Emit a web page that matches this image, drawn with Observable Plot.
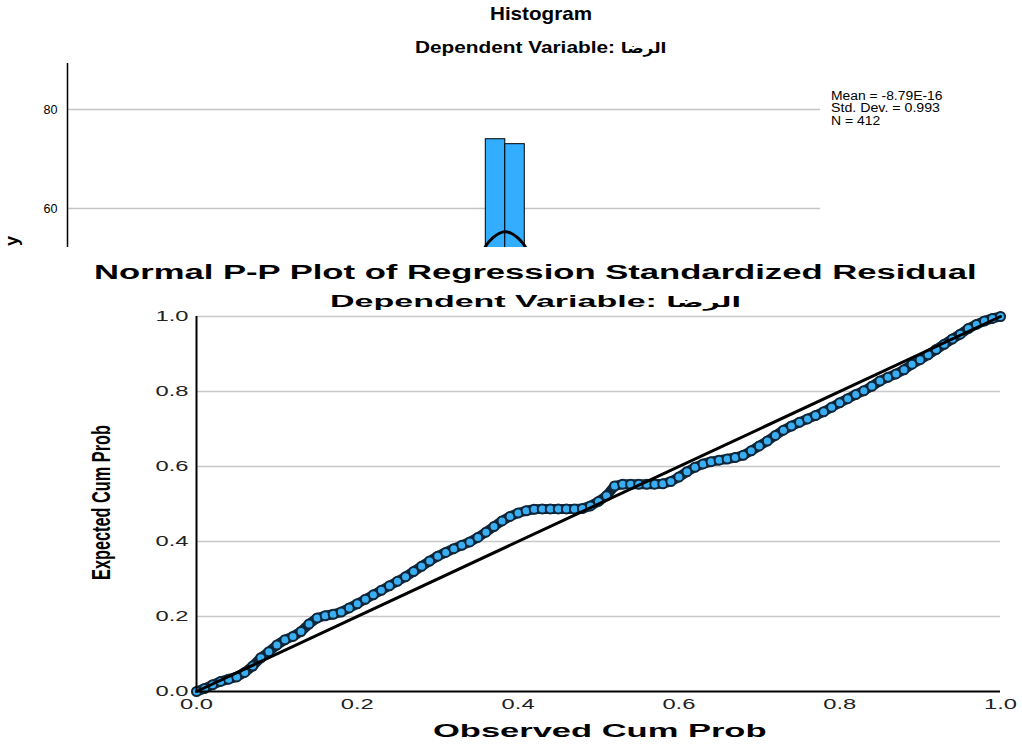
<!DOCTYPE html>
<html><head><meta charset="utf-8">
<script src="https://cdn.jsdelivr.net/npm/d3@7"></script>
<script src="https://cdn.jsdelivr.net/npm/@observablehq/plot@0.6"></script>
<style>
body{margin:0;background:#fff;}
#root{position:relative;width:1022px;height:747px;overflow:hidden;background:#fff;font-family:"Liberation Sans",Arial,"DejaVu Sans",sans-serif;}
#histBox{position:absolute;left:0;top:0;width:1022px;height:247px;overflow:hidden;}
#ppBox{position:absolute;left:0;top:247px;width:1022px;height:500px;background:#fff;}
.t{position:absolute;white-space:nowrap;transform-origin:0 0;color:#000;line-height:1;display:inline-block;}
.ar{font-family:"DejaVu Sans",sans-serif;font-size:0.82em;font-weight:bold;}
svg{display:block;}
</style></head><body><div id="root"><div id="histBox"></div><div id="ppBox"></div></div>
<script>
// ---------- Histogram data ----------
const histBinStart = [-0.334, 0];
const histBinEnd   = [0, 0.334];
const histCounts   = [74, 73];
const histXDomain  = [-7.5, 5.4];
const histYDomain  = [0, 89.3];
const histYTicks   = [60, 80];
// normal curve points (visible arc)
const curveX = [-0.36, -0.3, -0.2, -0.1, 0, 0.1, 0.2, 0.3, 0.36];
const curveY = [51.9, 53.0, 54.2, 55.0, 55.3, 55.0, 54.2, 53.0, 51.9];
const statLines = ["Mean = -8.79E-16", "Std. Dev. = 0.993", "N = 412"];
const depLabel = "Dependent Variable: ";
const depName = "الرضا";

// ---------- P-P plot data ----------
const ppObserved = [0.00,0.01,0.02,0.03,0.04,0.05,0.06,0.07,0.08,0.09,
  0.10,0.11,0.12,0.13,0.14,0.15,0.16,0.17,0.18,0.19,
  0.20,0.21,0.22,0.23,0.24,0.25,0.26,0.27,0.28,0.29,
  0.30,0.31,0.32,0.33,0.34,0.35,0.36,0.37,0.38,0.39,
  0.40,0.41,0.42,0.43,0.44,0.45,0.46,0.47,0.48,0.49,
  0.50,0.51,0.52,0.53,0.54,0.55,0.56,0.57,0.58,0.59,
  0.60,0.61,0.62,0.63,0.64,0.65,0.66,0.67,0.68,0.69,
  0.70,0.71,0.72,0.73,0.74,0.75,0.76,0.77,0.78,0.79,
  0.80,0.81,0.82,0.83,0.84,0.85,0.86,0.87,0.88,0.89,
  0.90,0.91,0.92,0.93,0.94,0.95,0.96,0.97,0.98,0.99,1.00];
const ppExpected = [0.000,0.008,0.018,0.027,0.033,0.039,0.051,0.068,0.090,0.106,
  0.124,0.138,0.147,0.160,0.180,0.196,0.202,0.206,0.212,0.223,
  0.234,0.246,0.258,0.270,0.282,0.294,0.306,0.320,0.334,0.348,
  0.361,0.371,0.381,0.390,0.399,0.411,0.425,0.440,0.455,0.467,
  0.476,0.482,0.486,0.487,0.487,0.487,0.487,0.487,0.488,0.495,
  0.507,0.522,0.548,0.553,0.553,0.553,0.553,0.553,0.554,0.560,
  0.572,0.586,0.598,0.607,0.613,0.617,0.620,0.624,0.630,0.642,
  0.655,0.668,0.683,0.697,0.708,0.718,0.727,0.736,0.746,0.758,
  0.770,0.781,0.792,0.802,0.814,0.828,0.838,0.847,0.858,0.873,
  0.885,0.898,0.912,0.926,0.940,0.953,0.968,0.979,0.988,0.995,1.000];
const diagX = [0, 1];
const diagY = [0, 1];
const ppTicks = [0, 0.2, 0.4, 0.6, 0.8, 1.0];

const barFill = "#33adff";
const dotFill = "#3aaef2";
const dotEdge = "#10273a";

// ---------- Histogram ----------
const histData = histCounts.map((c, i) => ({x1: histBinStart[i], x2: histBinEnd[i], count: c}));
const curve = curveX.map((x, i) => ({x, y: curveY[i]}));
const hist = Plot.plot({
  width: 1022, height: 535,
  marginLeft: 67, marginRight: 202, marginTop: 63, marginBottom: 30,
  style: {fontFamily: "'Liberation Sans', Arial, sans-serif", fontSize: "13px", background: "transparent"},
  x: {domain: histXDomain, axis: null},
  y: {domain: histYDomain, axis: null},
  marks: [
    Plot.gridY(histYTicks, {stroke: "#c4c4c4", strokeOpacity: 1, strokeWidth: 1.5}),
    Plot.rectY(histData, {x1: "x1", x2: "x2", y: "count", fill: barFill, stroke: "#000", strokeWidth: 1}),
    Plot.line(curve, {x: "x", y: "y", curve: "natural", stroke: "#000", strokeWidth: 3}),
    Plot.ruleX([histXDomain[0]], {y1: histYDomain[0], y2: histYDomain[1], stroke: "#000", strokeWidth: 1.5}),
    Plot.axisY(histYTicks, {tickSize: 0, tickPadding: 10, fontSize: 13, label: null})
  ]
});
document.getElementById("histBox").appendChild(hist);
d3.select(hist).selectAll('[aria-label$="tick label"] text')
  .attr("textLength", 14).attr("lengthAdjust", "spacingAndGlyphs");

// ---------- P-P plot ----------
const pts = ppObserved.map((x, i) => ({x, y: ppExpected[i]}));
const diag = diagX.map((x, i) => ({x, y: diagY[i]}));
const pp = Plot.plot({
  width: 1022, height: 500,
  marginLeft: 196, marginRight: 22, marginTop: 69, marginBottom: 56,
  style: {fontFamily: "'Liberation Sans', Arial, sans-serif", fontSize: "14px", background: "#fff"},
  x: {domain: [0, 1], axis: null},
  y: {domain: [0, 1], axis: null},
  marks: [
    Plot.gridY(ppTicks.slice(1), {stroke: "#c8c8c8", strokeOpacity: 1, strokeWidth: 1.5}),
    Plot.line(pts, {x: "x", y: "y", stroke: dotEdge, strokeWidth: 10}),
    Plot.dot(pts, {x: "x", y: "y", r: 4.5, fill: dotFill, stroke: dotEdge, strokeWidth: 2}),
    Plot.line(diag, {x: "x", y: "y", stroke: "#000", strokeWidth: 3}),
    Plot.ruleY([0], {stroke: "#000", strokeWidth: 2}),
    Plot.ruleX([0], {stroke: "#000", strokeWidth: 2}),
    Plot.axisX(ppTicks, {tickSize: 0, tickPadding: 8, fontSize: 14, label: null, tickFormat: d3.format(".1f")}),
    Plot.axisY(ppTicks, {tickSize: 0, tickPadding: 8, fontSize: 14, label: null, tickFormat: d3.format(".1f")})
  ]
});
document.getElementById("ppBox").appendChild(pp);
d3.select(pp).selectAll('[aria-label$="tick label"] text')
  .attr("textLength", 33).attr("lengthAdjust", "spacingAndGlyphs")
  .attr("fill", "#222");

// ---------- Text ----------
function label(parent, txt, o) {
  const s = document.createElement("span");
  s.className = "t";
  s.appendChild(document.createTextNode(txt));
  if (o.ar) {
    const a = document.createElement("span");
    a.className = "ar";
    a.textContent = o.ar;
    s.appendChild(a);
  }
  s.style.fontSize = o.size + "px";
  s.style.fontWeight = o.weight || "bold";
  parent.appendChild(s);
  const nat = s.offsetWidth;
  const k = o.w / nat;
  if (!o.rot) {
    s.style.left = o.x + "px";
    s.style.top = (o.base - 0.8465 * o.size) + "px";
    s.style.transform = `scaleX(${k})`;
  } else {
    s.style.left = (o.x - 0.8465 * o.size) + "px";
    s.style.top = o.base + "px";
    s.style.transform = `rotate(-90deg) scaleX(${k})`;
  }
}
const hb = document.getElementById("histBox");
const root = document.getElementById("root");
label(hb, "Histogram", {x: 490, base: 20, w: 102, size: 19});
label(hb, depLabel, {x: 415, base: 53, w: 252, size: 17, ar: depName});
label(hb, statLines[0], {x: 831, base: 100.5, w: 111, size: 12.5, weight: "normal"});
label(hb, statLines[1], {x: 831, base: 113, w: 109, size: 12.5, weight: "normal"});
label(hb, statLines[2], {x: 831, base: 125.5, w: 49, size: 12.5, weight: "normal"});
// only the last letter of the clipped "Frequency" axis title is visible in the original
label(hb, "y", {x: 18, base: 246, w: 10, size: 18, rot: true});

label(root, "Normal P-P Plot of Regression Standardized Residual", {x: 94, base: 279, w: 883, size: 20});
label(root, depLabel, {x: 330, base: 307, w: 412, size: 17, ar: depName});
label(root, "Observed Cum Prob", {x: 433, base: 737, w: 334, size: 19});
label(root, "Expected Cum Prob", {x: 110, base: 580, w: 155, size: 26, rot: true});
</script>
</body></html>
